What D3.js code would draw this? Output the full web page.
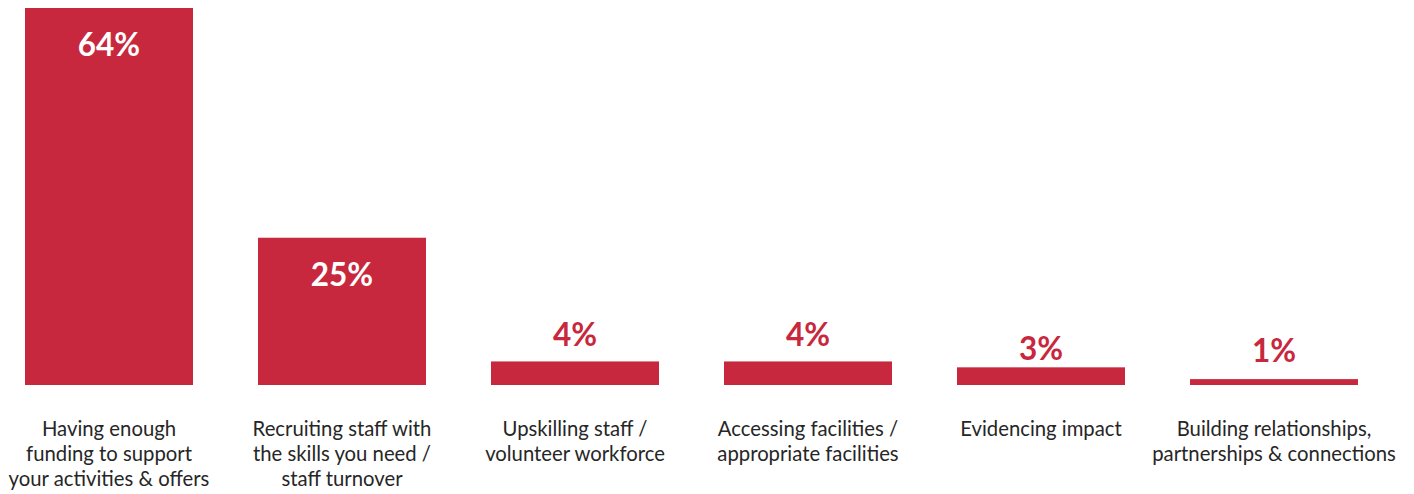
<!DOCTYPE html>
<html>
<head>
<meta charset="utf-8">
<script src="https://cdn.jsdelivr.net/npm/d3@7"></script>
<style>
  html, body { margin: 0; padding: 0; background: #ffffff; }
  svg { display: block; }
</style>
</head>
<body>
<svg id="chart" width="1414" height="494"></svg>
<script>
// Challenges reported, share of respondents (%)
const categories = [
  "funding",
  "recruiting",
  "upskilling",
  "facilities",
  "impact",
  "relationships"
];
const values = [64, 25, 4, 4, 3, 1];
const valueLabels = ["64%", "25%", "4%", "4%", "3%", "1%"];
const categoryLabels = [
  ["Having enough", "funding to support", "your activities & offers"],
  ["Recruiting staff with", "the skills you need /", "staff turnover"],
  ["Upskilling staff /", "volunteer workforce"],
  ["Accessing facilities /", "appropriate facilities"],
  ["Evidencing impact"],
  ["Building relationships,", "partnerships & connections"]
];

const RED = "#c8283d";
const TEXT = "#262626";
const FONT = "Lato, 'Open Sans', sans-serif";

const svg = d3.select("#chart");

const x = d3.scaleBand()
  .domain(categories)
  .range([-7.5, 1390.5])
  .paddingInner(65 / 233)
  .paddingOuter(32.5 / 233);

const y = d3.scaleLinear()
  .domain([0, d3.max(values)])
  .range([385, 8]);

const data = categories.map((c, i) => ({
  key: c, value: values[i], label: valueLabels[i], lines: categoryLabels[i]
}));

// bars
svg.append("g")
  .selectAll("rect")
  .data(data)
  .join("rect")
  .attr("x", d => x(d.key))
  .attr("y", d => y(d.value))
  .attr("width", x.bandwidth())
  .attr("height", d => y(0) - y(d.value))
  .attr("fill", RED);

// value labels: inside tall bars (white), above short bars (red)
const insideMin = 10;
const nudge = { impact: 8, relationships: -2 };
svg.append("g")
  .selectAll("text")
  .data(data)
  .join("text")
  .attr("x", d => x(d.key) + x.bandwidth() / 2)
  .attr("y", d => d.value >= insideMin
    ? y(d.value) + 48
    : y(d.value) - 15 + (nudge[d.key] || 0))
  .attr("text-anchor", "middle")
  .attr("font-family", FONT)
  .attr("font-weight", 700)
  .attr("font-size", 31.5)
  .attr("fill", d => d.value >= insideMin ? "#ffffff" : RED)
  .text(d => d.label);

// category labels under the baseline
const lab = svg.append("g")
  .selectAll("text")
  .data(data)
  .join("text")
  .attr("text-anchor", "middle")
  .attr("font-family", FONT)
  .attr("font-size", 20.3)
  .attr("fill", TEXT)
  .attr("y", 435.5);

lab.selectAll("tspan")
  .data(d => d.lines.map(l => ({ key: d.key, text: l })))
  .join("tspan")
  .attr("x", d => x(d.key) + x.bandwidth() / 2)
  .attr("dy", (d, i) => i === 0 ? 0 : 25)
  .text(d => d.text);
</script>
</body>
</html>
